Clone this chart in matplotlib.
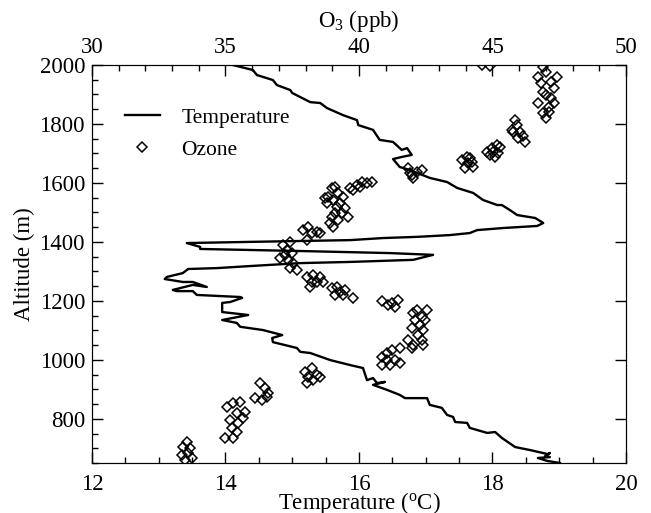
import matplotlib
matplotlib.use('Agg')
import matplotlib.pyplot as plt
from matplotlib.ticker import MultipleLocator

# temperature profile (deg C) vs altitude (m)
temp = [14.11, 14.41, 14.47, 14.71, 14.77, 14.97, 15.00, 15.27, 15.42, 15.52,
        15.76, 15.97, 15.99, 16.21, 16.31, 16.51, 16.64, 16.72, 16.79, 16.64,
        16.51, 16.61, 16.76, 17.06, 17.32, 17.47, 17.71, 17.86, 18.07, 18.14,
        18.26, 18.37, 18.64, 18.74, 18.76, 18.67, 18.16, 17.77, 17.66, 17.36,
        16.87, 16.36, 15.87, 15.12, 14.37, 13.42, 13.62, 13.62, 15.12, 16.46,
        17.11, 16.81, 15.87, 15.12, 14.37, 13.87, 13.44, 13.36, 13.12, 13.09,
        13.36, 13.51, 13.72, 13.51, 13.21, 13.27, 13.51, 13.57, 14.22, 14.25,
        14.07, 13.95, 13.95, 14.34, 13.95, 14.17, 14.22, 14.56, 14.85, 14.70,
        14.71, 15.07, 15.12, 15.27, 15.57, 15.87, 16.06, 16.12, 16.21, 16.27,
        16.39, 16.21, 16.42, 16.61, 16.69, 17.02, 17.06, 17.24, 17.32, 17.41,
        17.44, 17.62, 17.66, 17.92, 18.04, 18.14, 18.23, 18.34, 18.56, 18.83,
        18.86, 18.79, 18.86, 18.68, 18.82, 19.01]
temp_alt = [2000, 1983, 1966, 1949, 1932, 1915, 1905, 1874, 1871, 1854,
            1830, 1813, 1796, 1780, 1746, 1739, 1712, 1718, 1695, 1688,
            1681, 1654, 1644, 1617, 1603, 1583, 1566, 1542, 1525, 1525,
            1508, 1491, 1481, 1467, 1464, 1454, 1447, 1440, 1430, 1423,
            1417, 1413, 1406, 1403, 1400, 1396, 1383, 1376, 1369, 1362,
            1356, 1339, 1332, 1328, 1318, 1311, 1308, 1294, 1281, 1274,
            1264, 1264, 1247, 1254, 1237, 1233, 1233, 1220, 1213, 1210,
            1196, 1193, 1162, 1152, 1135, 1125, 1112, 1101, 1084, 1074,
            1060, 1040, 1027, 1023, 999, 982, 972, 931, 938, 921,
            925, 915, 898, 881, 870, 870, 847, 837, 813, 806,
            789, 786, 769, 752, 755, 735, 721, 704, 694, 680,
            684, 674, 670, 667, 657, 650]

# ozone (ppb) vs altitude (m)
ozone = [44.6, 44.9,
         46.9, 47.0, 46.7, 47.4, 46.8, 47.2, 47.3, 46.9, 47.0, 47.2, 46.7, 47.3, 47.1, 46.9, 47.1, 47.0,
         45.84, 45.92, 45.73, 45.77, 46.03, 45.96, 46.14, 46.22,
         44.79, 44.98, 45.17, 45.28, 45.09, 44.91, 45.21, 45.02,
         43.86, 43.97, 44.16, 44.27, 44.08, 44.23, 44.04,
         41.84, 41.99, 42.17, 42.36, 42.02, 41.91,
         39.66, 39.93, 40.11, 40.49, 40.04, 39.78, 40.30,
         38.99, 39.10, 38.84, 39.21, 39.40, 39.03, 39.29, 39.18, 39.48, 39.10,
         39.36, 39.59, 38.99, 39.21, 38.91, 39.03, 38.73, 38.80,
         37.90, 38.09, 38.24, 38.43, 38.05, 38.54,
         37.15, 37.42, 37.30, 37.49, 37.04, 37.34, 37.53, 37.42, 37.68, 37.23,
         38.05, 38.28, 38.54, 38.16, 38.43, 38.65, 38.24,
         38.99, 39.18, 39.29, 39.40, 39.10, 39.48, 39.78,
         40.86, 41.09, 41.35, 41.46, 41.24,
         42.02, 42.17, 42.55, 42.36, 42.10, 42.47, 42.28, 41.99, 42.40, 42.21,
         41.84, 42.36, 42.02, 42.40, 41.99,
         40.86, 41.05, 41.24, 41.54, 40.86, 41.16, 41.35, 41.54, 41.05,
         37.98, 38.24, 38.43, 38.05, 38.28, 38.54, 38.09,
         36.29, 36.48, 36.59, 36.10, 36.37, 36.55,
         35.06, 35.28, 35.54, 35.73, 35.43, 35.17, 35.66, 35.47, 35.24, 35.43, 34.98, 35.28,
         33.56, 33.41, 33.67, 33.37, 33.60, 33.48, 33.75]
ozone_alt = [2000, 1995,
             1993, 1976, 1959, 1959, 1939, 1942, 1922, 1908, 1898, 1888, 1871, 1871, 1858, 1837, 1841, 1820,
             1813, 1796, 1779, 1773, 1773, 1752, 1759, 1739,
             1705, 1718, 1729, 1722, 1688, 1695, 1702, 1705,
             1678, 1651, 1685, 1654, 1668, 1671, 1688,
             1651, 1627, 1637, 1644, 1617, 1634,
             1583, 1593, 1603, 1603, 1586, 1576, 1600,
             1583, 1586, 1552, 1566, 1552, 1542, 1532, 1518, 1515, 1498,
             1498, 1484, 1484, 1474, 1464, 1450, 1549, 1532,
             1440, 1450, 1430, 1434, 1406, 1430,
             1389, 1400, 1372, 1362, 1345, 1339, 1328, 1311, 1305, 1355,
             1281, 1288, 1281, 1247, 1264, 1264, 1264,
             1244, 1247, 1230, 1220, 1220, 1237, 1210,
             1199, 1186, 1179, 1203, 1193,
             1159, 1169, 1169, 1145, 1135, 1135, 1118, 1108, 1101, 1084,
             1067, 1067, 1050, 1050, 1040,
             1010, 1023, 1033, 1040, 982, 982, 999, 989, 999,
             959, 972, 948, 921, 931, 942, 942,
             921, 904, 887, 870, 864, 874,
             840, 853, 857, 823, 820, 796, 803, 786, 769, 755, 735, 735,
             721, 704, 701, 677, 684, 660, 667]

plt.rcParams['font.family'] = 'Liberation Serif'
plt.rcParams['mathtext.fontset'] = 'custom'
plt.rcParams['mathtext.rm'] = 'Liberation Serif'
plt.rcParams['mathtext.it'] = 'Liberation Serif:italic'
tick_fs = 16.5
label_fs = 16.5
legend_fs = 15.5

fig = plt.figure(figsize=(6.51, 5.13), dpi=100)
ax = fig.add_axes([0.1413, 0.0975, 0.8203, 0.7758])
ax2 = ax.twiny()

line, = ax.plot(temp, temp_alt, '-', color='black', lw=1.7)
pts, = ax2.plot(ozone, ozone_alt, 'D', mfc='none', mec='black', mew=1.1, ms=5.5)

ax.set_xlim(12, 20)
ax.set_ylim(650, 2000)
ax2.set_xlim(30, 50)

ax.xaxis.set_major_locator(MultipleLocator(2))
ax.xaxis.set_minor_locator(MultipleLocator(0.5))
ax.yaxis.set_major_locator(MultipleLocator(200))
ax.yaxis.set_minor_locator(MultipleLocator(50))
ax2.xaxis.set_major_locator(MultipleLocator(5))
ax2.xaxis.set_minor_locator(MultipleLocator(1))

ax.tick_params(which='both', direction='in', labelsize=tick_fs, right=True)
ax.tick_params(which='major', length=8, width=1)
ax.tick_params(which='minor', length=4, width=1)
ax.tick_params(axis='x', which='major', pad=8)
ax.tick_params(axis='y', which='major', pad=5)
ax.tick_params(axis='y', which='minor', right=False)
ax2.tick_params(which='both', direction='in', labelsize=tick_fs)
ax2.tick_params(which='major', length=8, width=1, pad=5)
ax2.tick_params(which='minor', length=4, width=1)

ax.set_xlabel('Temperature ($^{\\rm o}$C)', fontsize=label_fs, labelpad=-4)
ax.set_ylabel('Altitude (m)', fontsize=label_fs, labelpad=3)
ax2.set_xlabel('O$_3$ (ppb)', fontsize=label_fs, labelpad=7)

ax.legend((line, pts), ('Temperature', 'Ozone'), loc='upper left',
          bbox_to_anchor=(0.046, 0.914), borderaxespad=0, frameon=False,
          fontsize=legend_fs, handlelength=1.6, handletextpad=1.0,
          labelspacing=0.55)

plt.savefig('out.png', dpi=100)
